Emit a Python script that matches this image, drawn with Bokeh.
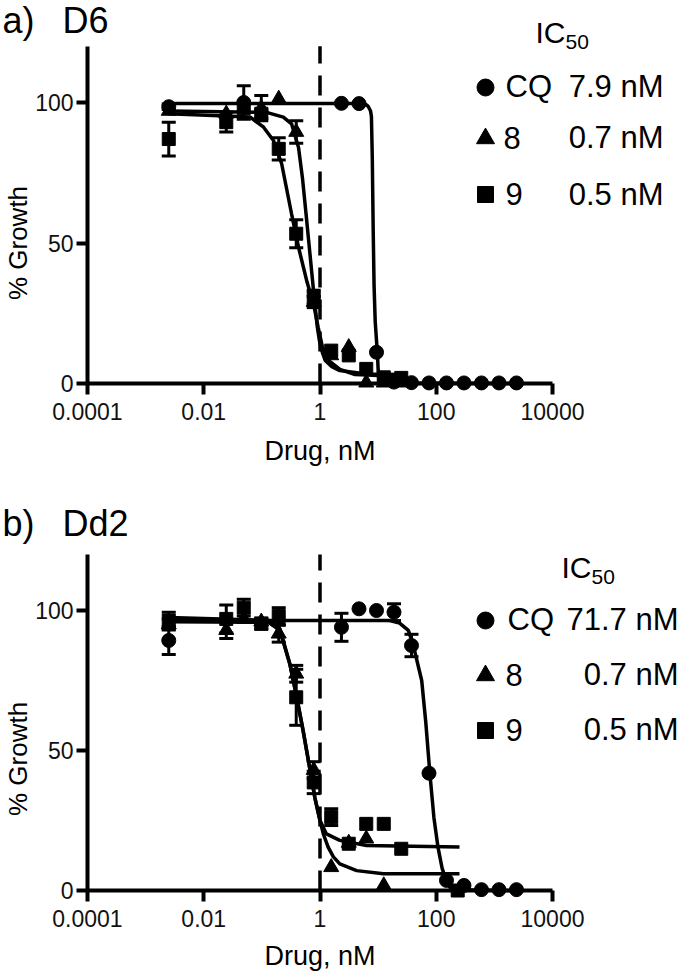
import math
from bokeh.plotting import figure
from bokeh.models import Range1d, FixedTicker, Whisker, TeeHead, ColumnDataSource, Label
from bokeh.layouts import column
from bokeh.embed import file_html
from bokeh.resources import INLINE

# ---------------- data ----------------
x_ticks = [0.0001, 0.01, 1, 100, 10000]
x_tick_labels = ["0.0001", "0.01", "1", "100", "10000"]
y_ticks = [0, 50, 100]
y_axis_top = 120
ref_conc = 1.0
x_title = "Drug, nM"
y_title = "% Growth"
series_names = ["CQ", "8", "9"]

d6_ic50 = ["7.9 nM", "0.7 nM", "0.5 nM"]
dd2_ic50 = ["71.7 nM", "0.7 nM", "0.5 nM"]

# panel a) D6 -- points
d6_cq_x = [0.0025, 0.0488, 2.34, 4.69, 9.38, 18.75, 37.5, 75, 150, 300, 600, 1200, 2400]
d6_cq_y = [98.5, 100.0, 99.7, 99.6, 11.1, 0.5, 0.3, 0.2, 0.2, 0.2, 0.2, 0.2, 0.2]
d6_cq_err = [1.0, 6.0, 0, 0, 0, 0, 0, 0, 0, 0, 0, 0, 0]

d6_8_x = [0.0025, 0.0244, 0.0488, 0.0977, 0.195, 0.39, 0.78, 1.56, 3.125, 6.25, 12.5, 25]
d6_8_y = [97.0, 96.0, 98.0, 98.0, 101.3, 89.5, 29.0, 10.0, 12.9, 0.3, 0.3, 0.3]
d6_8_err = [0, 0, 0, 4.5, 0, 4.0, 2.0, 0, 0, 0, 0, 0]

d6_9_x = [0.0025, 0.0244, 0.0488, 0.0977, 0.195, 0.39, 0.78, 1.56, 3.125, 6.25, 12.5, 25]
d6_9_y = [87.0, 93.0, 98.0, 96.0, 83.5, 53.3, 30.7, 11.7, 10.0, 5.2, 2.2, 2.0]
d6_9_err = [6.0, 3.5, 0, 1.5, 4.0, 5.0, 2.5, 0, 0, 0, 0, 0]

# panel a) D6 -- fitted curves (read off the picture)
d6_cq_fit_x = [0.0025, 5.9, 6.76, 7.41, 7.67, 7.94, 8.22, 8.51, 8.91, 9.40, 9.77, 10.0, 10.35, 10.96, 2400]
d6_cq_fit_y = [99.6, 99.6, 98.6, 97.0, 95.0, 80.0, 55.0, 35.0, 22.0, 15.0, 10.0, 5.0, 1.5, 0.2, 0.0]
d6_8_fit_x = [0.0025, 0.12, 0.234, 0.324, 0.427, 0.50, 0.575, 0.68, 0.794, 0.90, 0.977, 1.1, 1.23, 1.6, 2.19, 6.3, 25]
d6_8_fit_y = [97.0, 96.5, 94.8, 92.4, 84.0, 73.0, 60.4, 45.0, 30.7, 20.0, 15.3, 11.0, 8.2, 6.0, 4.6, 3.4, 3.2]
d6_9_fit_x = [0.0025, 0.063, 0.107, 0.158, 0.219, 0.324, 0.427, 0.60, 0.78, 0.93, 1.10, 1.45, 2.2, 4.0, 25]
d6_9_fit_y = [96.0, 94.8, 91.2, 86.5, 78.2, 60.4, 48.5, 36.0, 28.0, 20.0, 13.0, 8.0, 5.0, 3.2, 2.5]

# panel b) Dd2 -- points
dd2_cq_x = [0.0025, 2.34, 4.69, 9.38, 18.75, 37.5, 75, 150, 300, 600, 1200, 2400]
dd2_cq_y = [89.3, 94.0, 100.6, 100.0, 99.4, 87.5, 41.9, 3.6, 1.8, 0.3, 0.3, 0.3]
dd2_cq_err = [5.0, 5.0, 0, 0, 3.0, 4.0, 0, 0, 0, 0, 0, 0]

dd2_8_x = [0.0025, 0.0244, 0.0488, 0.0977, 0.195, 0.39, 0.78, 1.56, 3.125, 6.25, 12.5]
dd2_8_y = [95.0, 93.0, 97.0, 96.0, 91.7, 77.4, 43.0, 8.3, 17.0, 18.5, 1.8]
dd2_8_err = [2.0, 3.0, 0, 0, 3.0, 3.0, 3.0, 0, 0, 0, 0]

dd2_9_x = [0.0025, 0.0244, 0.0488, 0.0977, 0.195, 0.39, 0.78, 1.56, 3.125, 6.25, 12.5, 25, 234]
dd2_9_y = [96.4, 97.0, 101.0, 95.3, 98.0, 69.0, 38.6, 26.2, 16.7, 23.8, 23.8, 14.9, 0.0]
dd2_9_err = [3.0, 5.0, 3.0, 2.0, 3.0, 10.0, 4.0, 3.0, 0, 0, 0, 0, 0]

# panel b) Dd2 -- fitted curves (read off the picture)
dd2_cq_fit_x = [0.0025, 15.8, 23.4, 33.1, 39.8, 56.2, 66.1, 77.6, 91.2, 107, 126, 148, 170, 195, 2400]
dd2_cq_fit_y = [96.4, 96.4, 95.5, 92.9, 88.0, 75.0, 60.0, 41.9, 26.0, 15.5, 8.0, 3.6, 1.2, 0.3, 0.0]
dd2_8_fit_x = [0.0025, 0.13, 0.204, 0.302, 0.398, 0.513, 0.676, 0.813, 1.0, 1.15, 1.38, 1.7, 2.19, 4.27, 12.3, 251]
dd2_8_fit_y = [96.0, 95.8, 92.9, 81.0, 69.0, 57.0, 42.9, 33.3, 25.0, 20.0, 15.5, 12.0, 9.5, 7.1, 6.0, 6.0]
dd2_9_fit_x = [0.0025, 0.13, 0.204, 0.302, 0.398, 0.513, 0.676, 0.813, 1.0, 1.29, 2.19, 6.3, 251]
dd2_9_fit_y = [97.5, 96.5, 93.5, 81.0, 69.0, 57.0, 42.9, 33.3, 25.0, 20.2, 17.9, 16.1, 15.5]

# ---------------- layout constants (pixels) ----------------
W = 680
AX_L, AX_R = 87, 552          # pixel of x = 1e-4 and x = 1e4
SANS = "Liberation Sans"


def make_panel(height, y0_px, y100_px, tag, strain, ic_texts, pts, fits, lay):
    lx0, lx1 = math.log10(x_ticks[0]), math.log10(x_ticks[-1])
    ppd = (AX_R - AX_L) / (lx1 - lx0)
    xr = (10 ** (lx0 - AX_L / ppd), 10 ** (lx0 + (W - AX_L) / ppd))
    ppu = (y0_px - y100_px) / 100.0
    yr = (-(height - y0_px) / ppu, y0_px / ppu)

    p = figure(width=W, height=height, x_axis_type="log",
               x_range=Range1d(*xr), y_range=Range1d(*yr),
               output_backend="svg", toolbar_location=None,
               min_border=0, min_border_left=0, min_border_right=0,
               min_border_top=0, min_border_bottom=0,
               background_fill_color="white", border_fill_color="white")
    p.grid.visible = False
    p.outline_line_color = None

    def dx(cx):
        return 10 ** (lx0 + (cx - AX_L) / ppd)

    def dy(cy):
        return (y0_px - cy) / ppu

    xa, ya = p.xaxis[0], p.yaxis[0]
    xa.fixed_location = 0
    xa.bounds = (x_ticks[0], x_ticks[-1])
    xa.ticker = FixedTicker(ticks=x_ticks)
    xa.major_label_overrides = {float(t): s for t, s in zip(x_ticks, x_tick_labels)}
    ya.fixed_location = x_ticks[0]
    ya.bounds = (0, y_axis_top)
    ya.ticker = FixedTicker(ticks=y_ticks)
    for ax in (xa, ya):
        ax.axis_line_width = 4
        ax.axis_line_color = "black"
        ax.major_tick_line_width = 4
        ax.major_tick_line_color = "black"
        ax.major_tick_out = 11
        ax.major_tick_in = 0
        ax.minor_tick_line_color = None
        ax.major_label_text_font = SANS
        ax.major_label_text_font_size = "23px"
        ax.major_label_text_color = "#111111"
    xa.major_label_standoff = 8
    ya.major_label_standoff = 3

    # dashed reference line at 1 nM
    p.segment(x0=[ref_conc], y0=[0], x1=[ref_conc], y1=[y_axis_top], line_color="black",
              line_width=3.5, line_dash="20 12")

    # fitted curves
    for fx, fy in fits:
        p.line(fx, fy, line_color="black", line_width=3.5)

    markers = ["circle", "triangle", "square"]
    msizes = [14, 15, 13]
    for (xs, ys, es), mk, ms in zip(pts, markers, msizes):
        bx = [x for x, e in zip(xs, es) if e > 0]
        up = [y + e for y, e in zip(ys, es) if e > 0]
        lo = [y - e for y, e in zip(ys, es) if e > 0]
        if bx:
            src = ColumnDataSource(dict(base=bx, upper=up, lower=lo))
            w = Whisker(source=src, base="base", upper="upper", lower="lower",
                        dimension="height", line_color="black", line_width=3,
                        upper_head=TeeHead(size=14, line_width=3, line_color="black"),
                        lower_head=TeeHead(size=14, line_width=3, line_color="black"))
            p.add_layout(w)
        p.scatter(xs, ys, marker=mk, size=ms, color="black")

    # legend markers
    lsizes = [17, 18, 16]
    for mk, ms, cy in zip(markers, lsizes, lay["rows"]):
        p.scatter([dx(lay["mx"])], [dy(cy)], marker=mk, size=ms, color="black")

    def lab(cx, cy, text, size, align="left", angle=0.0, ydata=None, xdata=None):
        p.add_layout(Label(x=dx(cx) if xdata is None else xdata,
                           y=dy(cy) if ydata is None else ydata,
                           text=text, text_font=SANS,
                           text_font_size=size, text_color="black", text_align=align,
                           text_baseline="middle", angle=angle))

    # panel tag and strain
    lab(2, lay["title_mid"], tag, "36px")
    lab(62, lay["title_mid"], strain, "36px")
    # IC50 heading
    lab(lay["ic_x"], lay["ic_mid"], "IC", "30px")
    lab(lay["ic_x"] + 30, lay["ic_mid"] + 9.5, "50", "21px")
    # legend rows
    for name, val, nx, vm in zip(series_names, ic_texts, lay["name_x"], lay["mids"]):
        lab(nx, vm, name, "31px")
        lab(lay["val_x"], vm, val, "31px", align="right")
    # axis titles
    lab(lay["yt_x"], 0, y_title, "26px", align="center", angle=math.pi / 2, ydata=lay["yt_y"])
    lab(0, lay["xt_mid"], x_title, "27px", align="center", xdata=ref_conc)
    return p


lay_a = dict(rows=[87, 138, 194], mx=485, title_mid=20, ic_x=535, ic_mid=32,
             name_x=[505, 503, 505], mids=[86, 137, 193.5], val_x=663,
             yt_x=17, yt_y=50, xt_mid=450)
lay_b = dict(rows=[128, 183, 238], mx=485, title_mid=31, ic_x=561, ic_mid=75,
             name_x=[507, 505, 505], mids=[127, 182, 237], val_x=678,
             yt_x=17, yt_y=47, xt_mid=463)

pa = make_panel(492, 383, 102, "a)", "D6", d6_ic50,
                [(d6_cq_x, d6_cq_y, d6_cq_err), (d6_8_x, d6_8_y, d6_8_err), (d6_9_x, d6_9_y, d6_9_err)],
                [(d6_cq_fit_x, d6_cq_fit_y), (d6_8_fit_x, d6_8_fit_y), (d6_9_fit_x, d6_9_fit_y)],
                lay_a)
pb = make_panel(484, 398, 118, "b)", "Dd2", dd2_ic50,
                [(dd2_cq_x, dd2_cq_y, dd2_cq_err), (dd2_8_x, dd2_8_y, dd2_8_err), (dd2_9_x, dd2_9_y, dd2_9_err)],
                [(dd2_cq_fit_x, dd2_cq_fit_y), (dd2_8_fit_x, dd2_8_fit_y), (dd2_9_fit_x, dd2_9_fit_y)],
                lay_b)

layout = column(pa, pb, spacing=0)
open("out.html", "w").write(file_html(layout, INLINE))
